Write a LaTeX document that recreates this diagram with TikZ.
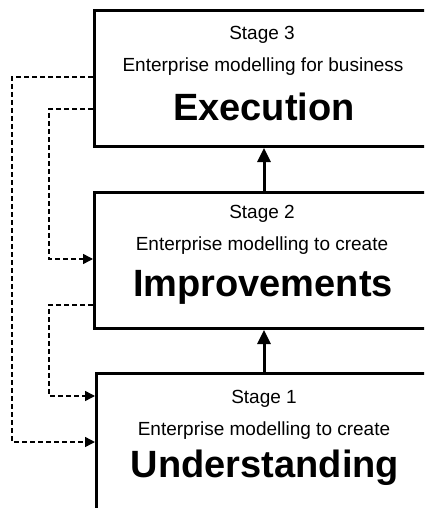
\documentclass[tikz,border=0pt]{standalone}
\usepackage{fontspec}
\setmainfont{Liberation Sans}
\usetikzlibrary{arrows.meta}
\begin{document}
\begin{tikzpicture}[x=1pt,y=-1pt,
  stagebox/.style={draw,line width=3pt,minimum width=338pt,inner sep=0pt,anchor=north west},
  small/.style={font=\fontsize{19}{19}\selectfont,inner sep=0pt},
  big/.style={font=\fontsize{38}{38}\selectfont\bfseries,inner sep=0pt},
  up/.style={line width=3pt,-{Triangle[length=14pt,width=13pt]}},
  feedback/.style={line width=1.5pt,dash pattern=on 5pt off 3pt,-{Triangle[length=10pt,width=10pt]}}]
\useasboundingbox (0,0) rectangle (424,508);
\clip (0,0) rectangle (424,508);
\fill[white] (0,0) rectangle (424,508);
% the three stages
\node[stagebox,minimum height=136pt] (s3) at (93,9) {};
\node[stagebox,minimum height=136pt] (s2) at (93,191) {};
\node[stagebox,minimum height=150pt] (s1) at (95,372) {};
% stage texts
\node[small] (t3a) at (262,35) {Stage 3};
\node[small] (t3b) at (263,67) {Enterprise modelling for business};
\node[big] (t3c) at (264,107) {Execution};
\node[small] (t2a) at (262,214) {Stage 2};
\node[small] (t2b) at (262,246) {Enterprise modelling to create};
\node[big] (t2c) at (263,287) {Improvements};
\node[small] (t1a) at (264,399) {Stage 1};
\node[small] (t1b) at (264,431) {Enterprise modelling to create};
\node[big] (t1c) at (265,468) {Understanding};
% upward progression
\draw[up] (s2.north -| 264,0) -- (s3.south -| 264,0);
\draw[up] (s1.north -| 264,0) -- (s2.south -| 264,0);
% feedback loops
\coordinate (a1) at (93,77);
\coordinate (a2) at (93,109);
\coordinate (a3) at (93,305);
\draw[feedback] (a1) -- (12,77) -- (12,442) -- (s1.west |- 0,442);
\draw[feedback] (a2) -- (49,109) -- (49,259) -- (s2.west |- 0,259);
\draw[feedback] (a3) -- (49,305) -- (49,396) -- (s1.west |- 0,396);
\end{tikzpicture}
\end{document}
